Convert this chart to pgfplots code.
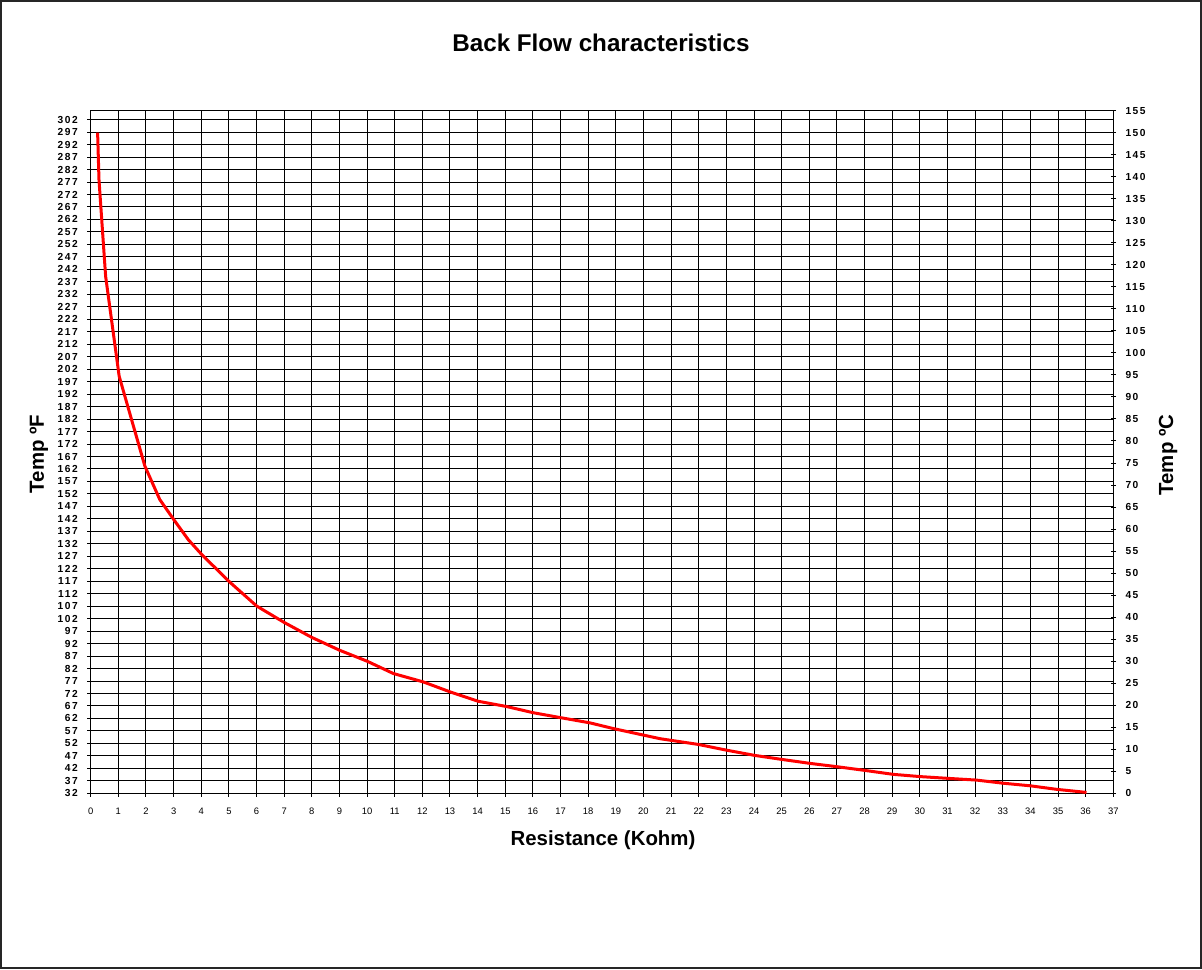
\documentclass[border=0pt]{standalone}
\usepackage{pgfplots}
\pgfplotsset{compat=1.18}
\usepackage{fontspec}
\setmainfont{Liberation Sans}
\newfontfamily\tickfont[LetterSpace=15]{Liberation Sans}
\begin{document}
\begin{tikzpicture}
\path (0pt,0pt) rectangle (601pt,484.5pt);
\draw[line width=1pt, black!85] (0.5pt,0.5pt) rectangle (600.5pt,484pt);
\begin{axis}[
  at={(45.35pt,87.85pt)}, anchor=south west,
  scale only axis, width=511.3pt, height=341.3pt,
  xmin=0, xmax=37, ymin=32, ymax=305.6,
  xtick={0,1,...,37}, ytick={32,37,...,302},
  tick pos=left, tick align=outside,
  major tick length=1.8pt,
  every tick/.style={black, line width=0.5pt},
  grid=major, major grid style={black, line width=0.5pt},
  axis line style={black, line width=0.6pt},
  /pgf/number format/assume math mode=true,
  yticklabel style={font=\tickfont\bfseries\fontsize{5.1}{6}\selectfont, inner sep=0pt, xshift=-4.5pt},
  xticklabel style={font=\fontsize{4.7}{5.5}\selectfont, inner sep=0pt, yshift=-5.5pt},
]
\end{axis}
\begin{axis}[
  at={(45.35pt,87.85pt)}, anchor=south west,
  scale only axis, width=511.3pt, height=341.3pt,
  xmin=0, xmax=37, ymin=0, ymax=155,
  axis x line=none, axis y line*=right,
  ytick={0,5,...,155},
  tick align=center, major tick length=2.8pt,
  every tick/.style={black, line width=0.5pt},
  axis line style={black, line width=0.6pt},
  /pgf/number format/assume math mode=true,
  yticklabel style={font=\tickfont\bfseries\fontsize{5.1}{6}\selectfont, inner sep=0pt, xshift=4.5pt, anchor=west},
]
\addplot[red, line width=1.5pt] coordinates {
(0.25,150) (0.30,139.3) (0.54,117.4) (1.03,94.7) (1.96,74.3) (2.5,66.7)
(3.0,62.2) (3.53,57.6) (4.02,54.2) (5.04,47.9) (6.01,42.5) (7.0,38.8)
(8.0,35.4) (9.0,32.5) (10.0,30.0) (10.95,27.2) (12.03,25.3) (13.06,22.9)
(14.02,20.9) (15.05,19.7) (16.01,18.3) (16.98,17.2) (18.06,16.0) (18.91,14.7)
(20.6,12.4) (21.98,11.1) (23.0,9.8) (24.03,8.6) (25.0,7.7) (26.02,6.8)
(27.05,6.0) (28.01,5.2) (29.04,4.3) (30.0,3.8) (31.0,3.4) (32.05,3.0)
(33.0,2.3) (34.0,1.7) (34.95,0.9) (36.03,0.2)
};
\end{axis}
\node[font=\bfseries\fontsize{12.1}{14}\selectfont] at (300.5pt,462.9pt) {Back Flow characteristics};
\node[font=\bfseries\fontsize{10.2}{12}\selectfont] at (301.5pt,64.5pt) {Resistance (Kohm)};
\node[font=\bfseries\fontsize{10.2}{12}\selectfont, rotate=90] at (19.5pt,257.5pt) {Temp ºF};
\node[font=\bfseries\fontsize{10.2}{12}\selectfont, rotate=90] at (584pt,257pt) {Temp ºC};
\end{tikzpicture}
\end{document}
